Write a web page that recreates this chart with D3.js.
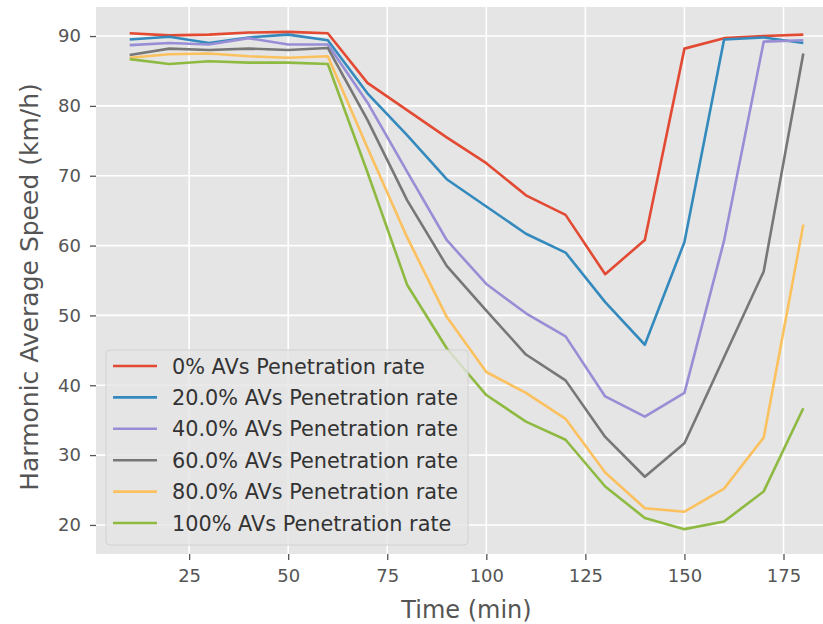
<!DOCTYPE html>
<html>
<head>
<meta charset="utf-8">
<script src="https://cdn.jsdelivr.net/npm/d3@7"></script>
<style>
  html, body { margin: 0; padding: 0; background: #fff; }
  svg { display: block; font-family: "DejaVu Sans", sans-serif; }
</style>
</head>
<body>
<div id="chart"></div>
<script>
// time steps (min)
const times = [10, 20, 30, 40, 50, 60, 70, 80, 90, 100, 110, 120, 130, 140, 150, 160, 170, 180];

// harmonic average speed (km/h) per penetration rate
const av0   = [90.4, 90.1, 90.2, 90.5, 90.6, 90.4, 83.3, 79.4, 75.5, 71.8, 67.2, 64.4, 55.9, 60.8, 88.2, 89.7, 90.0, 90.2];
const av20  = [89.5, 89.9, 89.0, 89.8, 90.2, 89.4, 81.8, 75.8, 69.5, 65.6, 61.7, 59.0, 51.9, 45.8, 60.5, 89.5, 89.8, 89.0];
const av40  = [88.7, 89.0, 88.8, 89.7, 88.8, 88.8, 80.5, 70.6, 60.8, 54.5, 50.3, 47.0, 38.4, 35.5, 38.9, 60.7, 89.2, 89.4];
const av60  = [87.3, 88.2, 88.0, 88.2, 88.0, 88.3, 78.0, 66.5, 57.1, 50.7, 44.4, 40.7, 32.6, 26.9, 31.7, 44.0, 56.3, 87.5];
const av80  = [86.9, 87.4, 87.5, 87.1, 86.9, 87.1, 74.0, 61.2, 49.8, 41.9, 38.9, 35.2, 27.5, 22.4, 21.9, 25.2, 32.5, 63.0];
const av100 = [86.7, 86.0, 86.4, 86.2, 86.2, 86.0, 70.5, 54.4, 45.3, 38.6, 34.8, 32.2, 25.5, 21.0, 19.4, 20.5, 24.8, 36.7];

const seriesNames = [
  '0% AVs Penetration rate',
  '20.0% AVs Penetration rate',
  '40.0% AVs Penetration rate',
  '60.0% AVs Penetration rate',
  '80.0% AVs Penetration rate',
  '100% AVs Penetration rate'
];
const seriesValues = [av0, av20, av40, av60, av80, av100];

const xTicks = [25, 50, 75, 100, 125, 150, 175];
const yTicks = [20, 30, 40, 50, 60, 70, 80, 90];

// ggplot 风格配色
const colors = ['#E24A33', '#348ABD', '#988ED5', '#777777', '#FBC15E', '#8EBA42'];

const width = 823, height = 624;
const plot = { left: 96, top: 7, right: 837, bottom: 554 };

const svg = d3.select('#chart').append('svg')
  .attr('width', width)
  .attr('height', height);

// matplotlib 默认 5% 边距
const allVals = seriesValues.flat();
const xExt = d3.extent(times), yExt = d3.extent(allVals);
const xPad = (xExt[1] - xExt[0]) * 0.05, yPad = (yExt[1] - yExt[0]) * 0.05;

const x = d3.scaleLinear()
  .domain([xExt[0] - xPad, xExt[1] + xPad])
  .range([plot.left, plot.right]);
const y = d3.scaleLinear()
  .domain([yExt[0] - yPad, yExt[1] + yPad])
  .range([plot.bottom, plot.top]);

svg.append('defs').append('clipPath').attr('id', 'plot-clip')
  .append('rect')
  .attr('x', plot.left).attr('y', plot.top)
  .attr('width', plot.right - plot.left).attr('height', plot.bottom - plot.top);

// 背景
svg.append('rect')
  .attr('x', plot.left).attr('y', plot.top)
  .attr('width', plot.right - plot.left).attr('height', plot.bottom - plot.top)
  .attr('fill', '#E5E5E5');

// 网格
const grid = svg.append('g').attr('clip-path', 'url(#plot-clip)');
grid.selectAll('.gx').data(xTicks).enter().append('line')
  .attr('x1', d => x(d)).attr('x2', d => x(d))
  .attr('y1', plot.top).attr('y2', plot.bottom)
  .attr('stroke', '#fff').attr('stroke-width', 1.6);
grid.selectAll('.gy').data(yTicks).enter().append('line')
  .attr('x1', plot.left).attr('x2', plot.right)
  .attr('y1', d => y(d)).attr('y2', d => y(d))
  .attr('stroke', '#fff').attr('stroke-width', 1.6);

// 坐标轴
const xAxis = svg.append('g')
  .attr('transform', `translate(0,${plot.bottom})`)
  .call(d3.axisBottom(x).tickValues(xTicks).tickSize(6).tickPadding(9).tickFormat(d3.format('d')));
const yAxis = svg.append('g')
  .attr('transform', `translate(${plot.left},0)`)
  .call(d3.axisLeft(y).tickValues(yTicks).tickSize(6).tickPadding(9).tickFormat(d3.format('d')));

[xAxis, yAxis].forEach(ax => {
  ax.select('.domain').remove();
  ax.selectAll('.tick line').attr('stroke', '#555').attr('stroke-width', 1.3);
  ax.selectAll('.tick text')
    .attr('fill', '#555')
    .style('font-size', '18px')
    .style('font-family', '"DejaVu Sans", sans-serif');
});

// 轴标题
svg.append('text')
  .attr('x', (plot.left + plot.right) / 2)
  .attr('y', 618)
  .attr('text-anchor', 'middle')
  .attr('fill', '#555')
  .style('font-size', '24px')
  .text('Time (min)');

svg.append('text')
  .attr('transform', `translate(38,287) rotate(-90)`)
  .attr('text-anchor', 'middle')
  .attr('fill', '#555')
  .style('font-size', '25px')
  .text('Harmonic Average Speed (km/h)');

// 折线
const line = d3.line()
  .x((d, i) => x(times[i]))
  .y(d => y(d));

const lines = svg.append('g').attr('clip-path', 'url(#plot-clip)');
seriesValues.forEach((vals, i) => {
  lines.append('path')
    .datum(vals)
    .attr('d', line)
    .attr('fill', 'none')
    .attr('stroke', colors[i])
    .attr('stroke-width', 2.6)
    .attr('stroke-linejoin', 'round');
});

// 图例
const legend = svg.append('g').attr('class', 'legend');
legend.append('rect')
  .attr('x', 106).attr('y', 350)
  .attr('width', 362).attr('height', 195)
  .attr('rx', 4)
  .attr('fill', '#E5E5E5').attr('fill-opacity', 0.8)
  .attr('stroke', '#d2d2d2').attr('stroke-width', 1);

seriesNames.forEach((name, i) => {
  const item = legend.append('g').attr('transform', `translate(0,${366 + i * 31.4})`);
  item.append('line')
    .attr('x1', 113).attr('x2', 157)
    .attr('stroke', colors[i]).attr('stroke-width', 2.6);
  item.append('text')
    .attr('x', 172).attr('y', 7.5)
    .attr('fill', '#333')
    .style('font-size', '20.8px')
    .text(name);
});
</script>
</body>
</html>
